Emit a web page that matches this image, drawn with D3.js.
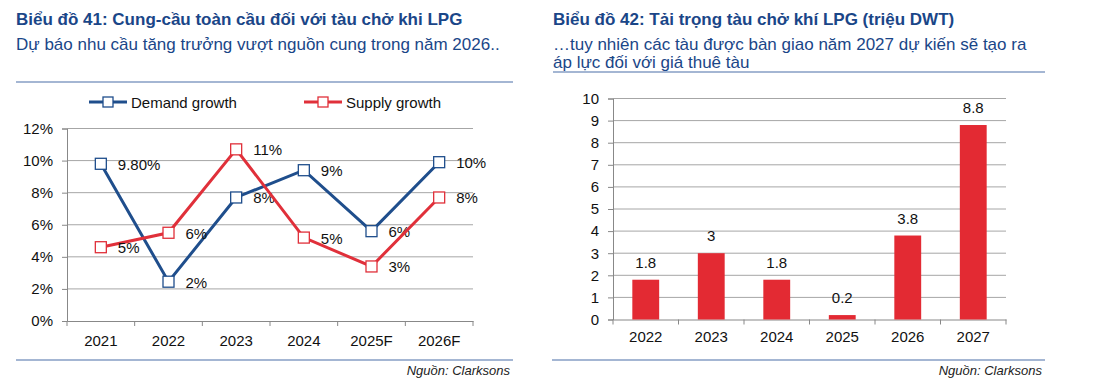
<!DOCTYPE html>
<html>
<head>
<meta charset="utf-8">
<script src="https://cdn.jsdelivr.net/npm/d3@7"></script>
<style>
  body { margin: 0; background: #fff; }
  svg text { font-family: "Liberation Sans", Arial, sans-serif; }
</style>
</head>
<body>
<svg id="chart" width="1095" height="387"></svg>
<script>
// chart 41 data
const years41 = ["2021", "2022", "2023", "2024", "2025F", "2026F"];
const demand = [9.8, 2.45, 7.7, 9.4, 5.6, 9.9];
const supply = [4.6, 5.5, 10.7, 5.2, 3.4, 7.7];
const demandLabels = ["9.80%", "2%", "8%", "9%", "6%", "10%"];
const supplyLabels = ["5%", "6%", "11%", "5%", "3%", "8%"];
const pctTicks = [0, 2, 4, 6, 8, 10, 12];

// chart 42 data
const years42 = ["2022", "2023", "2024", "2025", "2026", "2027"];
const dwt = [1.8, 3, 1.8, 0.2, 3.8, 8.8];
const dwtTicks = [0, 1, 2, 3, 4, 5, 6, 7, 8, 9, 10];

const navy = "#1f4e8c";
const red = "#e0303a";
const barRed = "#e32a33";
const titleBlue = "#1a4688";
const grid = "#a6a6a6";

const svg = d3.select("#chart");

// headers
function header(x, title, subs, ruleY, ruleX2) {
    svg.append("text").attr("x", x).attr("y", 25)
        .attr("fill", titleBlue).attr("font-weight", "bold").style("font-size", "17px")
        .text(title);
    subs.forEach((s, i) => {
        svg.append("text").attr("x", x).attr("y", 50 + i * 18)
            .attr("fill", titleBlue).style("font-size", "17px").text(s);
    });
    svg.append("line").attr("x1", x).attr("x2", ruleX2).attr("y1", ruleY).attr("y2", ruleY)
        .attr("stroke", "#4a6ea8").attr("stroke-width", 1.2);
}
function footer(x1, x2) {
    svg.append("line").attr("x1", x1).attr("x2", x2).attr("y1", 360).attr("y2", 360)
        .attr("stroke", "#4a6ea8").attr("stroke-width", 1.2);
    svg.append("text").attr("x", x2 - 3).attr("y", 375)
        .attr("text-anchor", "end").attr("font-style", "italic").style("font-size", "13px")
        .attr("fill", "#222").text("Nguồn: Clarksons");
}

header(16, "Biểu đồ 41: Cung-cầu toàn cầu đối với tàu chở khi LPG",
    ["Dự báo nhu cầu tăng trưởng vượt nguồn cung trong năm 2026.."], 82, 513);
header(553, "Biểu đồ 42: Tải trọng tàu chở khí LPG (triệu DWT)",
    ["…tuy nhiên các tàu được bàn giao năm 2027 dự kiến sẽ tạo ra", "áp lực đối với giá thuê tàu"], 72, 1045);
footer(16, 513);
footer(552, 1045);

// ---- chart 41: line chart
const x1 = d3.scaleBand().domain(years41).range([67, 473]);
const y1 = d3.scaleLinear().domain([0, 12]).range([321, 128.5]);

const g1 = svg.append("g");
g1.selectAll("line.grid").data(pctTicks.filter(d => d > 0)).join("line")
    .attr("x1", 67).attr("x2", 473).attr("y1", d => y1(d)).attr("y2", d => y1(d))
    .attr("stroke", grid).attr("stroke-width", 1);

const yAxis1 = g1.append("g").attr("transform", "translate(67,0)")
    .call(d3.axisLeft(y1).tickValues(pctTicks).tickFormat(d => d + "%").tickSize(5).tickPadding(9));
const xAxis1 = g1.append("g").attr("transform", "translate(0,321)")
    .call(d3.axisBottom(x1).tickSize(0).tickPadding(14));
// boundary ticks
g1.selectAll("line.bt").data(d3.range(years41.length + 1)).join("line")
    .attr("x1", i => 67 + i * x1.step()).attr("x2", i => 67 + i * x1.step())
    .attr("y1", 321).attr("y2", 326).attr("stroke", "#888");

[yAxis1, xAxis1].forEach(a => {
    a.select(".domain").attr("stroke", "#888");
    a.selectAll(".tick line").attr("stroke", "#888");
    a.selectAll("text").style("font-size", "15px").attr("fill", "#111")
        .style("font-family", "'Liberation Sans', Arial, sans-serif");
});

const cx = d => x1(d) + x1.bandwidth() / 2;
const series = [
    { name: "Demand growth", values: demand, labels: demandLabels, color: navy },
    { name: "Supply growth", values: supply, labels: supplyLabels, color: red }
];
series.forEach(s => {
    const line = d3.line().x((v, i) => cx(years41[i])).y(v => y1(v));
    g1.append("path").datum(s.values).attr("d", line)
        .attr("fill", "none").attr("stroke", s.color).attr("stroke-width", 3);
    g1.selectAll(null).data(s.values).join("rect")
        .attr("x", (v, i) => cx(years41[i]) - 5.5).attr("y", v => y1(v) - 5.5)
        .attr("width", 11).attr("height", 11)
        .attr("fill", "#fff").attr("stroke", s.color).attr("stroke-width", 1.3);
    g1.selectAll(null).data(s.values).join("text")
        .attr("x", (v, i) => cx(years41[i]) + 17).attr("y", v => y1(v) + 6)
        .style("font-size", "15px").attr("fill", "#111")
        .text((v, i) => s.labels[i]);
});

// legend
[{ s: series[0], x: 89 }, { s: series[1], x: 304 }].forEach(l => {
    const lg = svg.append("g");
    lg.append("line").attr("x1", l.x).attr("x2", l.x + 38).attr("y1", 102).attr("y2", 102)
        .attr("stroke", l.s.color).attr("stroke-width", 3);
    lg.append("rect").attr("x", l.x + 14).attr("y", 97).attr("width", 10).attr("height", 10)
        .attr("fill", "#fff").attr("stroke", l.s.color).attr("stroke-width", 1.3);
    lg.append("text").attr("x", l.x + 42).attr("y", 107.5)
        .style("font-size", "15px").attr("fill", "#111").text(l.s.name);
});

// ---- chart 42: bar chart
const x2 = d3.scaleBand().domain(years42).range([613, 1006]).paddingInner(0.59).paddingOuter(0.295);
const y2 = d3.scaleLinear().domain([0, 10]).range([319.5, 98.5]);
const g2 = svg.append("g");
g2.selectAll("line.grid").data(dwtTicks.filter(d => d > 0)).join("line")
    .attr("x1", 613).attr("x2", 1006).attr("y1", d => y2(d)).attr("y2", d => y2(d))
    .attr("stroke", grid).attr("stroke-width", 1);
const yAxis2 = g2.append("g").attr("transform", "translate(613,0)")
    .call(d3.axisLeft(y2).tickValues(dwtTicks).tickFormat(d3.format("d")).tickSize(5).tickPadding(9));
const xAxis2 = g2.append("g").attr("transform", "translate(0,319.5)")
    .call(d3.axisBottom(x2).tickSize(0).tickPadding(12));
const step2 = (1006 - 613) / years42.length;
g2.selectAll("line.bt").data(d3.range(years42.length + 1)).join("line")
    .attr("x1", i => 613 + i * step2).attr("x2", i => 613 + i * step2)
    .attr("y1", 319.5).attr("y2", 324.5).attr("stroke", "#888");
[yAxis2, xAxis2].forEach(a => {
    a.select(".domain").attr("stroke", "#888");
    a.selectAll(".tick line").attr("stroke", "#888");
    a.selectAll("text").style("font-size", "15px").attr("fill", "#111")
        .style("font-family", "'Liberation Sans', Arial, sans-serif");
});
g2.selectAll("rect.bar").data(dwt).join("rect")
    .attr("x", (v, i) => x2(years42[i])).attr("width", x2.bandwidth())
    .attr("y", v => y2(v)).attr("height", v => y2(0) - y2(v))
    .attr("fill", barRed);
g2.selectAll("text.val").data(dwt).join("text")
    .attr("x", (v, i) => x2(years42[i]) + x2.bandwidth() / 2).attr("y", v => y2(v) - 12)
    .attr("text-anchor", "middle").style("font-size", "15px").attr("fill", "#111")
    .text(v => v);
</script>
</body>
</html>
